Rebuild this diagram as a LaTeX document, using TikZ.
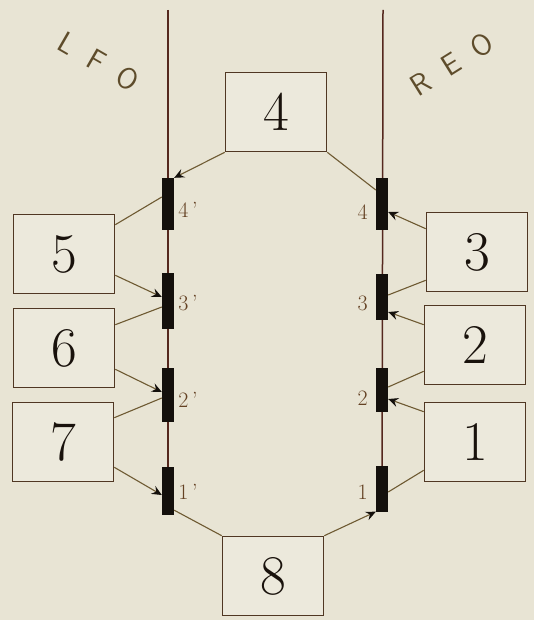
\documentclass[tikz,border=0pt]{standalone}
\usetikzlibrary{arrows.meta,calc,positioning}
\definecolor{paper}{RGB}{232,228,212}
\definecolor{boxfill}{RGB}{236,233,220}
\definecolor{boxink}{RGB}{80,55,35}
\definecolor{numink}{RGB}{25,18,12}
\definecolor{wireink}{RGB}{110,90,50}
\definecolor{railink}{RGB}{85,40,30}
\definecolor{barink}{RGB}{20,16,12}
\definecolor{lblink}{RGB}{100,65,35}
\begin{document}
\begin{tikzpicture}[x=1pt,y=-1pt,
    box/.style={draw=boxink, line width=1.6pt, fill=boxfill, minimum width=101pt, minimum height=79pt, inner sep=0pt, font=\fontsize{56}{56}\selectfont, text=numink},
    bar/.style={fill=barink, draw=none, minimum width=12pt, inner sep=0pt},
    wire/.style={draw=wireink, line width=1.1pt},
    feed/.style={wire, -{Stealth[length=10pt,width=9pt,inset=3.5pt,color=barink]}},
    lbl/.style={font=\fontsize{22}{22}\selectfont, text=lblink, inner sep=0pt},
    side/.style={font=\sffamily\fontsize{30}{30}\selectfont, text=wireink!85!black, inner sep=0pt}]
    % Paper
    \fill[paper] (0,0) rectangle (534,620);
    \useasboundingbox (0,0) rectangle (534,620);

    % Rail tops
    \coordinate (lt) at (168,10);
    \coordinate (rt) at (383,10);

    % Left bars
    \node[bar, minimum height=52pt] (bl4) at (168,204) {};
    \node[bar, minimum height=56pt] (bl3) at (168,301) {};
    \node[bar, minimum height=54pt] (bl2) at (168,395) {};
    \node[bar, minimum height=48pt] (bl1) at (168,491) {};

    % Right bars
    \node[bar, minimum height=52pt] (br4) at (382,204) {};
    \node[bar, minimum height=45pt] (br3) at (382,297) {};
    \node[bar, minimum height=44pt] (br2) at (382,390) {};
    \node[bar, minimum height=45pt] (br1) at (382,489) {};

    % Rails
    \draw[railink, line width=1.5pt] (lt) -- (bl1.south);
    \draw[railink, line width=1.5pt] (rt) -- (br1.south);
    \foreach \b in {bl4,bl3,bl2,bl1,br4,br3,br2,br1}
        \fill[barink] (\b.north west) rectangle (\b.south east);

    % Boxes
    \node[box] (b4) at (276,112) {4};
    \node[box] (b5) at (64,254) {5};
    \node[box] (b6) at (64,348) {6};
    \node[box] (b7) at (63,442) {7};
    \node[box] (b3) at (477,252) {3};
    \node[box] (b2) at (475,345) {2};
    \node[box] (b1) at (475,442) {1};
    \node[box] (b8) at (273,576) {8};

    % Side names
    \node[side, rotate=-30] (lfo) at (99,62) {L\hspace{18pt}F\hspace{18pt}O};
    \node[side, rotate=32] (reo) at (452,64) {R\hspace{18pt}E\hspace{18pt}O};

    % Bar labels
    \node[lbl, right=4pt of bl4, yshift=-6pt] (n4l) {4\,’};
    \node[lbl, right=4pt of bl3, yshift=-2pt] (n3l) {3\,’};
    \node[lbl, right=4pt of bl2, yshift=-5pt] (n2l) {2\,’};
    \node[lbl, right=4pt of bl1, yshift=-1pt] (n1l) {1\,’};
    \node[lbl, left=8pt of br4, yshift=-8pt] (n4r) {4};
    \node[lbl, left=8pt of br3, yshift=-6pt] (n3r) {3};
    \node[lbl, left=8pt of br2, yshift=-8pt] (n2r) {2};
    \node[lbl, left=8pt of br1, yshift=-3pt] (n1r) {1};

    % Left side wiring
    \draw[feed] (b4.south west) -- (bl4.north east);
    \draw[wire] ($(b5.north east)+(0,11)$) -- ($(bl4.west)+(0,-7)$);
    \draw[feed] ($(b5.south east)+(0,-19)$) -- ($(bl3.west)+(0,-4)$);
    \draw[wire] ($(b6.north east)+(0,17)$) -- ($(bl3.west)+(0,6)$);
    \draw[feed] ($(b6.south east)+(0,-19)$) -- ($(bl2.west)+(0,-3)$);
    \draw[wire] ($(b7.north east)+(0,16)$) -- ($(bl2.west)+(0,3)$);
    \draw[feed] ($(b7.south east)+(0,-15)$) -- ($(bl1.west)+(0,4)$);
    \draw[wire] ($(bl1.south east)+(0,-5)$) -- (b8.north west);

    % Right side wiring
    \draw[wire] (b4.south east) -- ($(br4.west)+(0,-14)$);
    \draw[feed] ($(b3.north west)+(0,17)$) -- ($(br4.east)+(0,8)$);
    \draw[wire] ($(b3.south west)+(0,-12)$) -- ($(br3.east)+(0,-2)$);
    \draw[feed] ($(b2.north west)+(0,20)$) -- ($(br3.east)+(0,15)$);
    \draw[wire] ($(b2.south west)+(0,-14)$) -- ($(br2.east)+(0,-3)$);
    \draw[feed] ($(b1.north west)+(0,10)$) -- ($(br2.east)+(0,9)$);
    \draw[wire] ($(b1.south west)+(0,-12)$) -- ($(br1.east)+(0,3)$);
    \draw[feed] (b8.north east) -- (br1.south west);
\end{tikzpicture}
\end{document}
